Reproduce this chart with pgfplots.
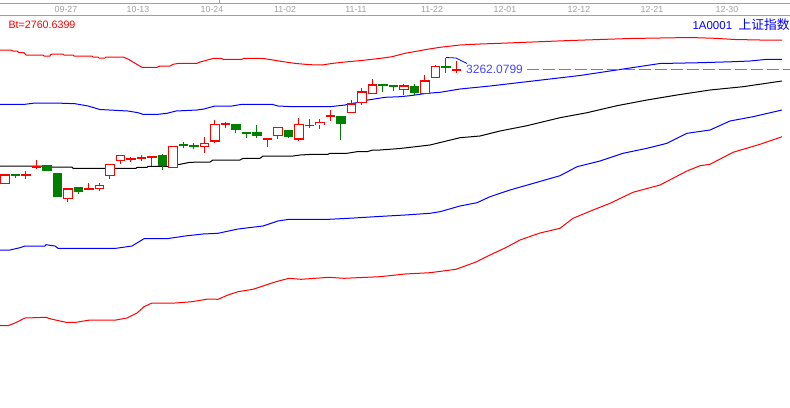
\documentclass[border=0pt]{standalone}
\usepackage{pgfplots}
\usepackage{pgfplotstable}
\pgfplotsset{compat=1.18}
\usepackage{fontspec}
\setmainfont{Liberation Sans}
\newfontfamily\cjk{Noto Sans CJK SC}
\definecolor{kred}{RGB}{255,0,0}
\definecolor{kgreen}{RGB}{0,128,0}
\definecolor{kblue}{RGB}{0,0,255}
\definecolor{lblue}{RGB}{70,70,255}
\definecolor{dgray}{RGB}{160,160,160}

% candles, read in screen rows: i = bar number, bt/bb = body top/bottom, wh/wl = wick top/bottom
\pgfplotstableread{
i bt bb wh wl
1 174.3 184 174.3 184
3 174 176.3 171 178.7
4 166 167 160 169.3
7 188.3 199 188.3 201.7
9 188.3 190.3 182.7 190.3
10 185 189.3 183 190.7
11 164 176.3 164 179.3
12 155 161.3 155 163.7
13 158.7 159.3 157 162.3
14 156.7 158.3 154.7 160.7
15 156 158 156 166
17 146 168.3 146 168.3
20 143 146.7 137.3 152.7
21 124 141.7 120 142.7
22 123 124 122 127.7
26 138 139.7 138 146.7
27 127 136.3 127 139.3
29 124 139.7 118 140.7
31 122 125.3 119 129.3
32 115 117.3 110 120.7
34 103.3 113.3 100 113.3
35 91.3 103.3 88 105
36 84.3 94.3 79 94.3
39 85.3 89.7 84 94.7
41 80.3 94.3 75 94.3
42 66 78.3 65 78.3
44 69.3 70.7 61.3 73.3
}\upbars

\pgfplotstableread{
i bt bb wh wl
2 174 175 174 178.3
5 165 170.7 165 170.7
6 173 196.7 173 196.7
8 187 192.3 187 194.3
16 154.7 165.7 153.7 170.3
18 144.5 145.5 141.7 148.3
19 145.3 146.3 143.3 149
23 124 129.7 124 132.7
24 132 133 132 137.7
25 132 135.7 125 137.7
28 130 136.7 130 137.7
30 125 125.7 119 128.3
33 116 123.7 116 139.7
37 84 85.7 84 92
38 85.3 86.7 85.3 90.7
40 86 92.7 84 95.3
43 65.7 68 58.3 73.3
}\downbars

\begin{document}
\begin{tikzpicture}
\path[use as bounding box] (0,0) rectangle (790bp,408bp);
\fill[white] (0,0) rectangle (790bp,408bp);
\clip (0,0) rectangle (790bp,408bp);
\begin{axis}[
  x=1bp, y=1bp,
  xmin=0, xmax=790, ymin=0, ymax=408,
  y dir=reverse,
  axis line style={draw=none},
  ticks=none,
  clip=false,
  error bars/y dir=both,
  error bars/y explicit,
  error bars/error mark=none,
  candle/.style={draw=none, mark=none, forget plot},
]
% header strip
\addplot[dgray, line width=1bp] coordinates {(0,3) (790,3)};
\addplot[dgray, line width=1bp] coordinates {(0,15.5) (790,15.5)};
\addplot[dgray, line width=1bp] coordinates {(220,0) (220,3)};
\begin{scope}[font=\fontsize{8.8bp}{9bp}\selectfont, text=dgray]
\node[anchor=east] at (3,9.5) {09-14};
\node at (66,9.5) {09-27};
\node at (138,9.5) {10-13};
\node at (212,9.5) {10-24};
\node at (285,9.5) {11-02};
\node at (356,9.5) {11-11};
\node at (432,9.5) {11-22};
\node at (505,9.5) {12-01};
\node at (579,9.5) {12-12};
\node at (652,9.5) {12-21};
\node at (727,9.5) {12-30};
\end{scope}
\node[anchor=west, text=kred, font=\fontsize{10.7bp}{12bp}\selectfont] at (5,25) {Bt=2760.6399};
\node[anchor=west, text=kblue, font=\fontsize{11.5bp}{13bp}\selectfont] at (689,25) {1A0001\ \ {\fontsize{12.8bp}{13bp}\cjk 上证指数}};

% bands
\addplot[kred, line width=1bp] coordinates {
(0,50) (11,50) (13,51) (17,51) (19,52.7) (24,52.7) (26,55) (43,55) (44,56) (50,56)
(51,54.3) (56,54) (63,54) (64,55) (73,55) (74,56) (92,56) (93,57) (98,57) (99,58)
(105,58) (106,57) (123,57) (128,59) (133,62) (138,65) (142,67.3) (157,67.3) (160,66)
(170,66) (173,64.3) (179,63.3) (197,63.3) (200,62) (205,60.7) (210,59.3) (214,58.3)
(221,58.3) (223,59.3) (242,59.3) (244,58.3) (262,58.3) (270,59.5) (282,61.5) (296,63.5)
(310,64.7) (322,65) (333,63.3) (345,62) (356,61) (366,60) (383,58) (392,56.7) (405,53.3)
(418,51) (426,49.5) (440,47.3) (460,45) (480,44) (500,43.3) (520,42.5) (545,41.5)
(570,40.5) (600,39.5) (630,38.5) (660,38) (690,37.5) (715,38.3) (735,39.5) (760,40) (782,40)};
\addplot[kblue, line width=1bp] coordinates {
(0,104.3) (25,104.3) (35,103) (55,103) (75,103.7) (88,106) (100,109.5) (128,111)
(138,112.7) (143,114.3) (158,114.3) (167,113.3) (176,111) (197,110) (204,109) (210,107.3)
(215,106) (232,106) (242,104.3) (272,104.3) (278,106) (293,106.7) (330,106.7) (345,105)
(350,103.7) (357,102.7) (368,100) (385,97.3) (400,96.7) (410,95.7) (427,93.3) (440,92.3)
(460,89) (490,86) (520,82.5) (550,79) (580,75.5) (610,71) (640,66.5) (660,63.5)
(700,62.7) (733,61.7) (750,61) (767,59.3) (782,59.3)};
\addplot[black, line width=1bp] coordinates {
(0,166) (50,166) (52,167) (72,167) (73,168.3) (136,168.3) (137,167.3) (147,167.3)
(148,166.3) (170,166.3) (172,165) (180,164.3) (190,162.3) (210,162) (213,160) (240,160)
(243,158.3) (260,158.3) (263,156) (293,156) (300,155) (313,154.3) (328,154.3) (330,153.3)
(347,153.3) (357,151.7) (367,151.7) (373,150) (380,150) (400,148.5) (430,145) (460,137.7)
(480,136) (500,131) (527,125.7) (560,117.7) (587,112.7) (617,105.7) (647,100) (677,95)
(710,90) (743,86.7) (782,81)};
\addplot[kblue, line width=1bp] coordinates {
(0,250) (10,250) (20,247.7) (25,246) (45,246) (46,244.7) (55,246) (58,248.3) (116,248.3)
(132,246) (144,238.7) (167,238.7) (185,236) (203,234) (218,233.3) (238,229) (263,226)
(278,221) (289,219.3) (329,219.3) (354,218) (375,216.7) (405,215) (430,213.3) (440,211.7)
(460,206) (477,202.7) (490,196.7) (510,190) (537,182.3) (560,175.7) (577,166.7) (600,161)
(623,153.3) (647,148.3) (667,143.3) (687,133.3) (710,130) (730,121) (753,116.7) (782,110)};
\addplot[kred, line width=1bp] coordinates {
(0,325.7) (8,325.7) (15,323) (25,318) (46,317.3) (51,319) (66,322.3) (76,322.3) (90,320)
(116,320) (127,318) (137,313) (144,306.7) (152,303) (175,303) (192,301.7) (208,299)
(218,299.3) (228,295) (238,291.7) (253,289.3) (263,286) (276,281.7) (289,278.3)
(301,279.3) (329,277.3) (344,278.3) (380,276.7) (405,274) (430,272.7) (456,269.3)
(476,262) (490,255) (505,248) (520,240) (540,233) (560,228.3) (573,218.3) (593,210)
(610,203.3) (633,192.3) (660,185) (687,171) (700,165.7) (710,164.3) (733,152.3)
(760,144.3) (782,136.7)};

% wicks
\addplot[candle, error bars/error bar style={draw=kred, line width=1bp}]
  table[x expr=5+10.5*(\thisrow{i}-1), y expr=(\thisrow{wh}+\thisrow{wl})/2,
        y error expr=(\thisrow{wl}-\thisrow{wh})/2] {\upbars};
\addplot[candle, error bars/error bar style={draw=kgreen, line width=1bp}]
  table[x expr=5+10.5*(\thisrow{i}-1), y expr=(\thisrow{wh}+\thisrow{wl})/2,
        y error expr=(\thisrow{wl}-\thisrow{wh})/2] {\downbars};
% bodies
\addplot[candle, error bars/error bar style={draw=kred, line width=9.6bp}]
  table[x expr=5+10.5*(\thisrow{i}-1), y expr=(\thisrow{bt}+\thisrow{bb})/2,
        y error expr={max((\thisrow{bb}-\thisrow{bt})/2,0.8)}] {\upbars};
\addplot[candle, error bars/error bar style={draw=white, line width=7.1bp}]
  table[x expr=5+10.5*(\thisrow{i}-1), y expr=(\thisrow{bt}+\thisrow{bb})/2,
        y error expr={max((\thisrow{bb}-\thisrow{bt})/2-1.25,0)}] {\upbars};
\addplot[candle, error bars/error bar style={draw=kgreen, line width=9.6bp}]
  table[x expr=5+10.5*(\thisrow{i}-1), y expr=(\thisrow{bt}+\thisrow{bb})/2,
        y error expr={max((\thisrow{bb}-\thisrow{bt})/2,0.8)}] {\downbars};

% last price marker
\addplot[gray, line width=1bp, dash pattern=on 12bp off 4bp] coordinates {(527,69) (790,69)};
\addplot[kblue, line width=0.8bp] coordinates {(446,57.5) (456,58) (467,63.5)};
\node[anchor=west, text=lblue, font=\fontsize{12bp}{13bp}\selectfont, inner sep=0pt] at (466,69.5) {3262.0799};
\end{axis}
\end{tikzpicture}
\end{document}
